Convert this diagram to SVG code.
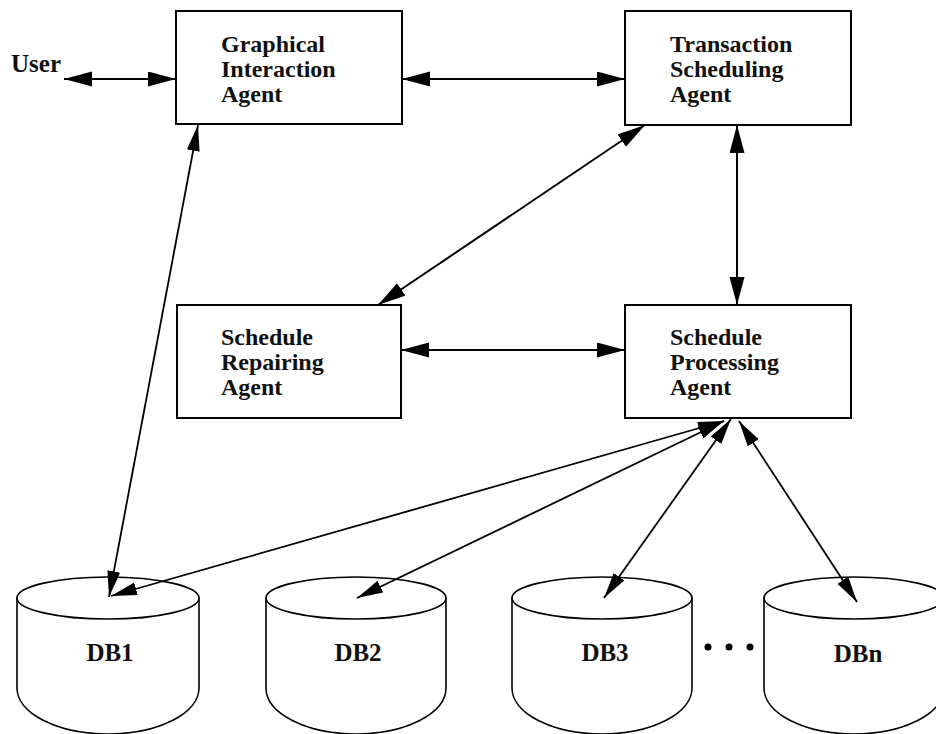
<svg xmlns="http://www.w3.org/2000/svg" width="936" height="734" viewBox="0 0 936 734">
<defs>
<marker id="ah" markerUnits="userSpaceOnUse" markerWidth="30" markerHeight="16" refX="28" refY="7.5" orient="auto-start-reverse">
<path d="M0,0 L28,7.5 L0,15 z" fill="#000"/>
</marker>
<marker id="ahs" markerUnits="userSpaceOnUse" markerWidth="28" markerHeight="14" refX="26" refY="6.5" orient="auto-start-reverse">
<path d="M0,0 L26,6.5 L0,13 z" fill="#000"/>
</marker>
<style>
.box{fill:#fff;stroke:#000;stroke-width:2}
.db{fill:#fff;stroke:#000;stroke-width:1.6}
.lbl{font-family:"Liberation Serif","Times New Roman",serif;font-weight:bold;font-size:24px;fill:#111}
.dbl{font-family:"Liberation Serif","Times New Roman",serif;font-weight:bold;font-size:25px;fill:#111;text-anchor:middle}
.c{stroke:#000;stroke-width:2;fill:none;marker-start:url(#ah);marker-end:url(#ah)}
.d{stroke:#000;stroke-width:1.8;fill:none;marker-start:url(#ahs);marker-end:url(#ahs)}
</style>
</defs>
<rect width="936" height="734" fill="#fff"/>
<g id="user"><text class="lbl" x="11" y="72" style="font-size:25px">User</text></g>
<g id="gia"><rect class="box" x="176" y="11" width="226" height="113"/>
<text class="lbl" x="221" y="52">Graphical</text><text class="lbl" x="221" y="77">Interaction</text><text class="lbl" x="221" y="102">Agent</text></g>
<g id="tsa"><rect class="box" x="625" y="11" width="226" height="114"/>
<text class="lbl" x="670" y="52">Transaction</text><text class="lbl" x="670" y="77">Scheduling</text><text class="lbl" x="670" y="102">Agent</text></g>
<g id="sra"><rect class="box" x="177" y="305" width="224" height="113"/>
<text class="lbl" x="221" y="345">Schedule</text><text class="lbl" x="221" y="370">Repairing</text><text class="lbl" x="221" y="395">Agent</text></g>
<g id="spa"><rect class="box" x="625" y="305" width="226" height="113"/>
<text class="lbl" x="670" y="345">Schedule</text><text class="lbl" x="670" y="370">Processing</text><text class="lbl" x="670" y="395">Agent</text></g>
<g id="db1"><path class="db" d="M17,598 V688 A91,46 0 0 0 199,688 V598"/><ellipse class="db" cx="108" cy="598" rx="91" ry="21"/><text class="dbl" x="110" y="661">DB1</text></g>
<g id="db2"><path class="db" d="M266,598 V688 A90,46 0 0 0 446,688 V598"/><ellipse class="db" cx="356" cy="598" rx="90" ry="21"/><text class="dbl" x="358" y="661">DB2</text></g>
<g id="db3"><path class="db" d="M512,598 V688 A90,46 0 0 0 692,688 V598"/><ellipse class="db" cx="602" cy="598" rx="90" ry="21"/><text class="dbl" x="605" y="661">DB3</text></g>
<g id="dbn"><path class="db" d="M764,598 V688 A90,46 0 0 0 944,688 V598"/><ellipse class="db" cx="854" cy="598" rx="90" ry="21"/><text class="dbl" x="858" y="662">DBn</text></g>
<g id="dots" fill="#000"><circle cx="708" cy="647" r="3.5"/><circle cx="729" cy="647" r="3.5"/><circle cx="750" cy="647" r="3.5"/></g>
<g id="connectors">
<line class="c" x1="64" y1="79" x2="176" y2="79"/>
<line class="c" x1="402" y1="79" x2="625" y2="79"/>
<line class="c" x1="737" y1="125" x2="737" y2="305"/>
<line class="c" x1="645" y1="125" x2="378" y2="305"/>
<line class="c" x1="401" y1="350" x2="625" y2="350"/>
<line class="d" x1="198" y1="125" x2="109" y2="597"/>
<line class="d" x1="724" y1="421" x2="111" y2="596"/>
<line class="d" x1="724" y1="421" x2="357" y2="598"/>
<line class="d" x1="731" y1="419" x2="604" y2="598"/>
<line class="d" x1="739" y1="421" x2="857" y2="602"/>
</g>
</svg>
